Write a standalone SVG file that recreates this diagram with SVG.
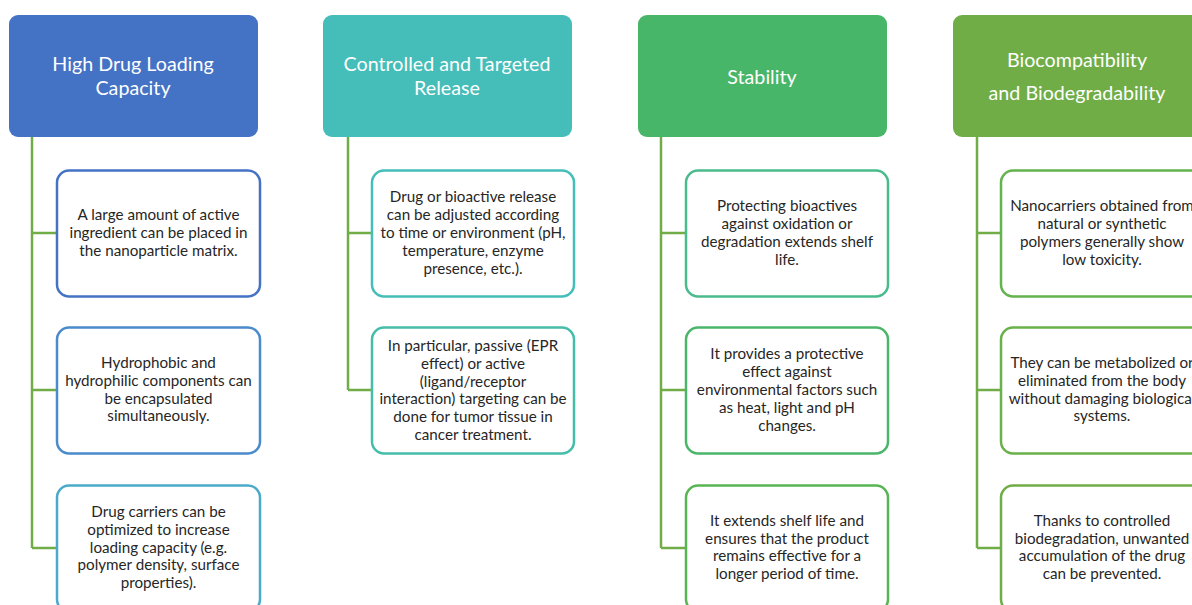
<svg xmlns="http://www.w3.org/2000/svg" width="1192" height="605" viewBox="0 0 1192 605">
<style>
.hd{stroke:none}
.hdt{font-family:Lato,"Liberation Sans",sans-serif;font-size:19.7px;fill:#fff;text-anchor:middle;dominant-baseline:central}
.bx{fill:#fff;stroke-width:2.5}
.bt{font-family:Lato,"Liberation Sans",sans-serif;font-size:15.2px;fill:#262626;text-anchor:middle;dominant-baseline:central}
.cn{fill:none;stroke:#70AD47;stroke-width:2.5}
</style>
<rect width="1192" height="605" fill="#fff"/>
<g id="connectors">
<path class="cn" d="M32 137V548M32 233H57M32 390H57M32 548H57"/>
<path class="cn" d="M348 137V390M348 233H372M348 390H372"/>
<path class="cn" d="M661 137V548M661 233H686M661 390H686M661 548H686"/>
<path class="cn" d="M977 137V548M977 233H1001M977 390H1001M977 548H1001"/>
</g>
<g id="h1"><rect class="hd" x="9" y="15" width="249" height="122" rx="9" fill="#4472C4"/>
<text class="hdt" x="133" y="63">High Drug Loading</text><text class="hdt" x="133" y="87">Capacity</text></g>
<g id="h2"><rect class="hd" x="323" y="15" width="249" height="122" rx="9" fill="#45BDB8"/>
<text class="hdt" x="447" y="63">Controlled and Targeted</text><text class="hdt" x="447" y="87">Release</text></g>
<g id="h3"><rect class="hd" x="638" y="15" width="249" height="122" rx="9" fill="#48B668"/>
<text class="hdt" x="762" y="76">Stability</text></g>
<g id="h4"><rect class="hd" x="953" y="15" width="249" height="122" rx="9" fill="#70AD47"/>
<text class="hdt" x="1077" y="59">Biocompatibility</text><text class="hdt" x="1077" y="92">and Biodegradability</text></g>

<g id="c1a"><rect class="bx" x="57" y="170.5" width="203" height="126" rx="12" stroke="#4472C4"/>
<text class="bt" x="158.5" y="214">A large amount of active</text><text class="bt" x="158.5" y="232">ingredient can be placed in</text><text class="bt" x="158.5" y="250">the nanoparticle matrix.</text></g>
<g id="c1b"><rect class="bx" x="57" y="327.5" width="203" height="126" rx="12" stroke="#4A8BCB"/>
<text class="bt" x="158.5" y="362">Hydrophobic and</text><text class="bt" x="158.5" y="380">hydrophilic components can</text><text class="bt" x="158.5" y="397.5">be encapsulated</text><text class="bt" x="158.5" y="415">simultaneously.</text></g>
<g id="c1c"><rect class="bx" x="57" y="485.5" width="203" height="126" rx="12" stroke="#4BAAC9"/>
<text class="bt" x="158.5" y="511">Drug carriers can be</text><text class="bt" x="158.5" y="529">optimized to increase</text><text class="bt" x="158.5" y="546.5">loading capacity (e.g.</text><text class="bt" x="158.5" y="564">polymer density, surface</text><text class="bt" x="158.5" y="582">properties).</text></g>

<g id="c2a"><rect class="bx" x="372" y="170.5" width="202" height="126" rx="12" stroke="#45BDB8"/>
<text class="bt" x="473" y="196">Drug or bioactive release</text><text class="bt" x="473" y="214">can be adjusted according</text><text class="bt" x="473" y="232">to time or environment (pH,</text><text class="bt" x="473" y="250">temperature, enzyme</text><text class="bt" x="473" y="268">presence, etc.).</text></g>
<g id="c2b"><rect class="bx" x="372" y="327.5" width="202" height="126" rx="12" stroke="#45BDA8"/>
<text class="bt" x="473" y="345">In particular, passive (EPR</text><text class="bt" x="473" y="363">effect) or active</text><text class="bt" x="473" y="380.5">(ligand/receptor</text><text class="bt" x="473" y="398">interaction) targeting can be</text><text class="bt" x="473" y="416">done for tumor tissue in</text><text class="bt" x="473" y="434">cancer treatment.</text></g>

<g id="c3a"><rect class="bx" x="686" y="170.5" width="202" height="126" rx="12" stroke="#4ABB8C"/>
<text class="bt" x="787" y="205">Protecting bioactives</text><text class="bt" x="787" y="223">against oxidation or</text><text class="bt" x="787" y="241">degradation extends shelf</text><text class="bt" x="787" y="259">life.</text></g>
<g id="c3b"><rect class="bx" x="686" y="327.5" width="202" height="126" rx="12" stroke="#4BB66B"/>
<text class="bt" x="787" y="353">It provides a protective</text><text class="bt" x="787" y="371">effect against</text><text class="bt" x="787" y="389">environmental factors such</text><text class="bt" x="787" y="407">as heat, light and pH</text><text class="bt" x="787" y="425">changes.</text></g>
<g id="c3c"><rect class="bx" x="686" y="485.5" width="202" height="126" rx="12" stroke="#58B553"/>
<text class="bt" x="787" y="520">It extends shelf life and</text><text class="bt" x="787" y="537.5">ensures that the product</text><text class="bt" x="787" y="555">remains effective for a</text><text class="bt" x="787" y="573">longer period of time.</text></g>

<g id="c4a"><rect class="bx" x="1001" y="170.5" width="202" height="126" rx="12" stroke="#63B34E"/>
<text class="bt" x="1102" y="205">Nanocarriers obtained from</text><text class="bt" x="1102" y="223">natural or synthetic</text><text class="bt" x="1102" y="241">polymers generally show</text><text class="bt" x="1102" y="259">low toxicity.</text></g>
<g id="c4b"><rect class="bx" x="1001" y="327.5" width="202" height="126" rx="12" stroke="#6AB14A"/>
<text class="bt" x="1102" y="362">They can be metabolized or</text><text class="bt" x="1102" y="380">eliminated from the body</text><text class="bt" x="1102" y="397.5">without damaging biological</text><text class="bt" x="1102" y="415">systems.</text></g>
<g id="c4c"><rect class="bx" x="1001" y="485.5" width="202" height="126" rx="12" stroke="#70AD47"/>
<text class="bt" x="1102" y="520">Thanks to controlled</text><text class="bt" x="1102" y="537.5">biodegradation, unwanted</text><text class="bt" x="1102" y="555">accumulation of the drug</text><text class="bt" x="1102" y="573">can be prevented.</text></g>
</svg>
